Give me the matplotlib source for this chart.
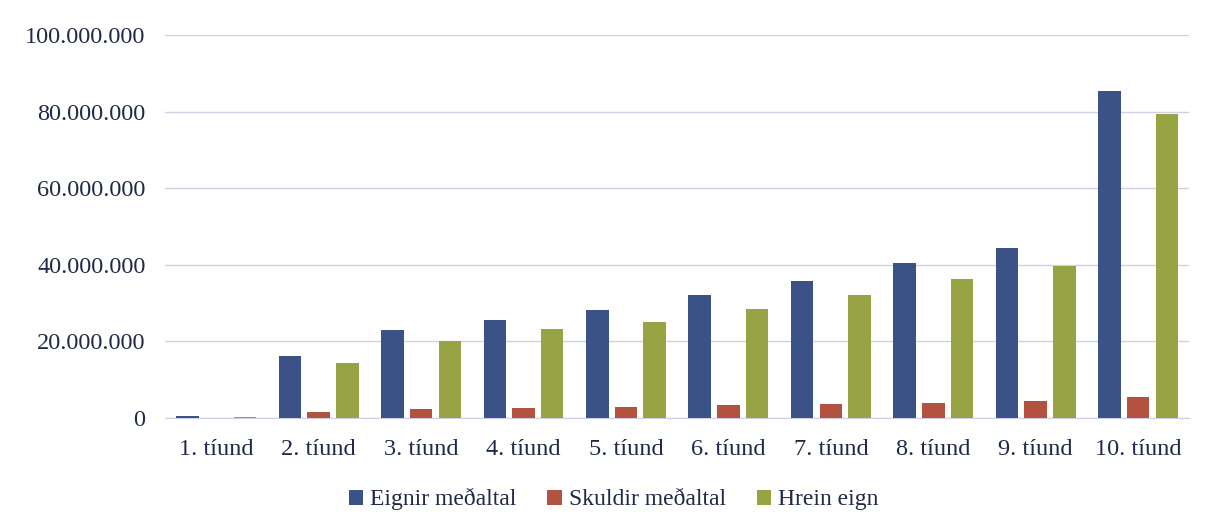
import numpy as np
import matplotlib.pyplot as plt
from matplotlib.ticker import FuncFormatter

categories = ["1. tíund", "2. tíund", "3. tíund", "4. tíund", "5. tíund",
              "6. tíund", "7. tíund", "8. tíund", "9. tíund", "10. tíund"]
eignir = [0.4, 16.1, 23.0, 25.6, 28.2, 32.0, 35.8, 40.5, 44.4, 85.5]   # millions
skuldir = [0.05, 1.6, 2.4, 2.7, 3.0, 3.3, 3.6, 4.0, 4.5, 5.5]
hrein = [0.3, 14.3, 20.0, 23.2, 25.0, 28.4, 32.0, 36.4, 39.8, 79.5]
series_names = ["Eignir meðaltal", "Skuldir meðaltal", "Hrein eign"]

plt.rcParams['font.family'] = ['Liberation Serif', 'DejaVu Serif']
text_col = '#1f2a48'

fig = plt.figure(figsize=(12.08, 5.3), dpi=100)
ax = fig.add_axes([0.1366, 0.2113, 0.848, 0.7227])

x = np.arange(len(categories))
w = 0.22
step = 0.28
colors = ['#3b5287', '#b3523f', '#98a444']
for i, (vals, name) in enumerate(zip([eignir, skuldir, hrein], series_names)):
    ax.bar(x + (i - 1) * step, np.array(vals) * 1e6, width=w, color=colors[i],
           label=name, zorder=3)

ax.set_xlim(-0.5, len(categories) - 0.5)
ax.set_ylim(0, 100e6)
ax.set_yticks(np.arange(0, 100e6 + 1, 20e6))
ax.yaxis.set_major_formatter(FuncFormatter(lambda v, p: f"{int(v):,}".replace(",", ".")))
ax.set_xticks(x)
ax.set_xticklabels(categories)
ax.grid(axis='y', color='#cfcfe6', linewidth=1.0, zorder=0)
for s in ['top', 'right', 'left']:
    ax.spines[s].set_visible(False)
ax.spines['bottom'].set_color('#cfcfe6')
ax.tick_params(axis='y', length=0, pad=14, labelsize=17.5, labelcolor=text_col)
ax.tick_params(axis='x', length=0, pad=15, labelsize=17.5, labelcolor=text_col)

fig.legend(loc='center', bbox_to_anchor=(0.508, 0.058), ncol=3, frameon=False,
           fontsize=17, handlelength=0.6, handleheight=0.6, handletextpad=0.3,
           columnspacing=1.3, labelcolor=text_col)

fig.savefig("out.png", dpi=100, facecolor='white')
